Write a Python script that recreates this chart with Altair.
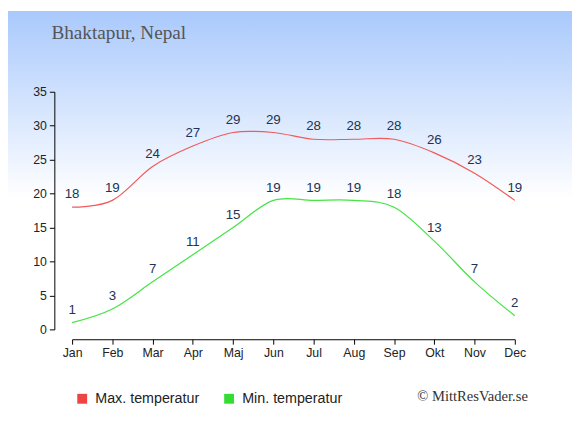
import altair as alt
import pandas as pd

months = ["Jan", "Feb", "Mar", "Apr", "Maj", "Jun", "Jul", "Aug", "Sep", "Okt", "Nov", "Dec"]
max_temp = [18, 19, 24, 27, 29, 29, 28, 28, 28, 26, 23, 19]
min_temp = [1, 3, 7, 11, 15, 19, 19, 19, 18, 13, 7, 2]
series_names = ["Max. temperatur", "Min. temperatur"]
line_colors = ["#f05a5a", "#44e444"]
legend_colors = ["#ee4444", "#33dd33"]
y_ticks = [0, 5, 10, 15, 20, 25, 30, 35]
title_text = "Bhaktapur, Nepal"
credit_text = "© MittResVader.se"

rows = []
for i, m in enumerate(months):
    rows.append({"month": m, "temp": max_temp[i], "series": series_names[0]})
    rows.append({"month": m, "temp": min_temp[i], "series": series_names[1]})
df = pd.DataFrame(rows)

W, H = 449, 241

x_enc = alt.X("month:N", sort=months, scale=alt.Scale(padding=0),
              axis=alt.Axis(title=None, labelAngle=0, offset=10, labelPadding=3, zindex=1))
y_enc = alt.Y("temp:Q", scale=alt.Scale(domain=[0, 35], nice=False, zero=True),
              axis=alt.Axis(title=None, values=y_ticks, offset=18, labelPadding=3, zindex=1))

bg = alt.Chart(pd.DataFrame({"a": [0]})).mark_rect(
    color=alt.Gradient(
        gradient="linear", x1=0, x2=0, y1=0, y2=1,
        stops=[alt.GradientStop(offset=0, color="#a9c9fc"),
               alt.GradientStop(offset=0.46, color="#ffffff"),
               alt.GradientStop(offset=1, color="#ffffff")]),
).encode(x=alt.value(-65), x2=alt.value(507), y=alt.value(-82), y2=alt.value(333))

lines = alt.Chart(df).mark_line(interpolate="cardinal", strokeWidth=1.2).encode(
    x=x_enc, y=y_enc,
    color=alt.Color("series:N", scale=alt.Scale(domain=series_names, range=line_colors),
                    legend=None),
)

legend_layer = alt.Chart(df).mark_square(filled=True, opacity=1).encode(
    x=x_enc, y=alt.value(-2000),
    color=alt.Color("series:N", scale=alt.Scale(domain=series_names, range=legend_colors),
                    legend=alt.Legend(title=None, orient="none", legendX=3, legendY=304,
                                      direction="horizontal", symbolType="square",
                                      symbolSize=100, symbolStrokeWidth=0, symbolOpacity=1,
                                      labelFont="Liberation Sans", labelFontSize=14.5,
                                      labelColor="#222222", labelOffset=6,
                                      columnPadding=22, zindex=1)),
)

labels = alt.Chart(df).mark_text(dy=-13, fontSize=13.5, font="Liberation Sans",
                                 color="#223355").encode(
    x=x_enc, y=y_enc, text="temp:Q")

title = alt.Chart(pd.DataFrame({"t": [title_text]})).mark_text(
    align="left", baseline="alphabetic", font="Liberation Serif", fontSize=19.5,
    color="#555555").encode(x=alt.value(-21), y=alt.value(-53), text="t:N")

credit = alt.Chart(pd.DataFrame({"t": [credit_text]})).mark_text(
    align="left", baseline="alphabetic", font="Liberation Serif", fontSize=14.8,
    color="#333333").encode(x=alt.value(350), y=alt.value(314), text="t:N")

chart = alt.layer(bg, lines, legend_layer, labels, title, credit).resolve_scale(
    color="independent"
).properties(
    width=W, height=H,
    autosize=alt.AutoSizeParams(type="none"),
    padding={"left": 65, "top": 82, "right": 58, "bottom": 92},
).configure(background="#ffffff").configure_view(stroke=None, clip=False).configure_axis(
    grid=False, domainColor="#000000", tickColor="#000000", labelColor="#222222",
    labelFont="Liberation Sans", labelFontSize=12.5, tickSize=5, domainWidth=1,
)

chart.save("out.html", embed_options={"renderer": "svg", "actions": False})
